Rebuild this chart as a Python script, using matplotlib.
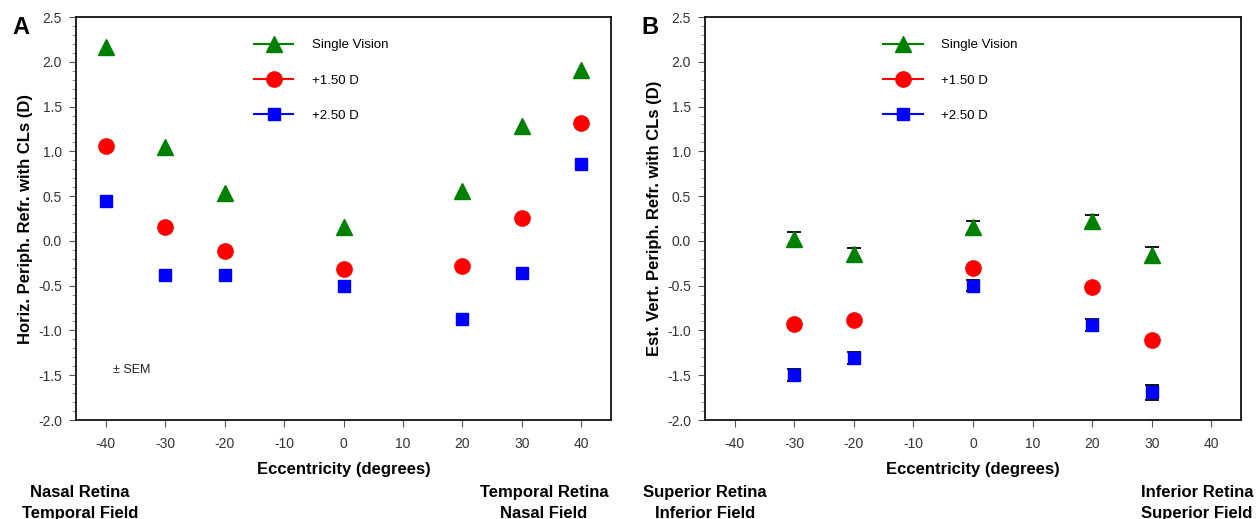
import matplotlib
matplotlib.use("Agg")
import matplotlib.pyplot as plt
from matplotlib.lines import Line2D
from matplotlib.ticker import MultipleLocator

plt.rcParams['font.family'] = ['Liberation Sans', 'DejaVu Sans']

# Panel A data (horizontal)
ecc_a = [-40, -30, -20, 0, 20, 30, 40]
sv_a = [2.17, 1.05, 0.53, 0.15, 0.56, 1.28, 1.91]
p150_a = [1.06, 0.15, -0.11, -0.31, -0.28, 0.26, 1.32]
p250_a = [0.44, -0.38, -0.38, -0.50, -0.87, -0.36, 0.86]

# Panel B data (vertical)
ecc_b = [-30, -20, 0, 20, 30]
sv_b = [0.02, -0.15, 0.155, 0.22, -0.16]
sv_b_sem = [0.08, 0.07, 0.07, 0.07, 0.09]
p150_b = [-0.93, -0.88, -0.30, -0.51, -1.11]
p250_b = [-1.50, -1.31, -0.50, -0.94, -1.69]
p250_b_sem = [0.07, 0.065, 0.06, 0.07, 0.085]

labels = ["Single Vision", "+1.50 D", "+2.50 D"]
xticks = [-40, -30, -20, -10, 0, 10, 20, 30, 40]

GREEN = "#008000"
RED = "#ff0000"
BLUE = "#0000ff"
TICKC = "#333333"

fig = plt.figure(figsize=(12.6, 5.19), dpi=100)
axA = fig.add_axes([76/1260, 1-420/519, (611-76)/1260, (420-17)/519])
axB = fig.add_axes([705/1260, 1-420/519, (1241-705)/1260, (420-17)/519])


def style(ax, ylabel):
    ax.set_xlim(-45, 45)
    ax.set_ylim(-2.0, 2.5)
    ax.set_xticks(xticks)
    ax.set_xticklabels([str(t) for t in xticks])
    ax.yaxis.set_major_locator(MultipleLocator(0.5))
    ax.yaxis.set_minor_locator(MultipleLocator(0.1))
    ax.set_yticklabels([f"{v:.1f}" for v in ax.get_yticks()])
    ax.tick_params(axis='both', which='major', direction='out', length=5,
                   width=0.8, labelsize=10, labelcolor=TICKC, color='#555555')
    ax.tick_params(axis='y', which='minor', direction='out', length=3,
                   width=0.6, color='#888888')
    ax.tick_params(axis='x', pad=7)
    ax.tick_params(axis='y', pad=5)
    for s in ax.spines.values():
        s.set_linewidth(1.3)
        s.set_color('#111111')
    ax.set_xlabel("Eccentricity (degrees)", fontsize=12, fontweight='bold',
                  labelpad=8)
    ax.set_ylabel(ylabel, fontsize=12, fontweight='bold', labelpad=4)


def legend(ax):
    handles = [
        Line2D([], [], color=GREEN, marker='^', markersize=11, lw=1.5),
        Line2D([], [], color=RED, marker='o', markersize=11, lw=1.5),
        Line2D([], [], color=BLUE, marker='s', markersize=8.5, lw=1.5),
    ]
    ax.legend(handles, labels, loc='upper left', bbox_to_anchor=(0.31, 0.975),
              frameon=False, fontsize=9.5, handlelength=3.0, handletextpad=1.4,
              labelspacing=1.75)


# Panel A
axA.plot(ecc_a, sv_a, linestyle='none', marker='^', color=GREEN, markersize=11)
axA.plot(ecc_a, p150_a, linestyle='none', marker='o', color=RED, markersize=11)
axA.plot(ecc_a, p250_a, linestyle='none', marker='s', color=BLUE, markersize=8.5)
style(axA, "Horiz. Periph. Refr. with CLs (D)")
legend(axA)
axA.text(-38.7, -1.44, "± SEM", fontsize=9, va='center', ha='left', color='#222222')

# Panel B
axB.errorbar(ecc_b, sv_b, yerr=sv_b_sem, fmt='none', ecolor='black',
             elinewidth=1.3, capsize=5, capthick=1.3, zorder=2)
axB.errorbar(ecc_b, p250_b, yerr=p250_b_sem, fmt='none', ecolor='black',
             elinewidth=1.3, capsize=5, capthick=1.3, zorder=2)
axB.plot(ecc_b, sv_b, linestyle='none', marker='^', color=GREEN, markersize=11, zorder=3)
axB.plot(ecc_b, p150_b, linestyle='none', marker='o', color=RED, markersize=11, zorder=3)
axB.plot(ecc_b, p250_b, linestyle='none', marker='s', color=BLUE, markersize=8.5, zorder=3)
style(axB, "Est. Vert. Periph. Refr. with CLs (D)")
legend(axB)

# Panel letters
fig.text(12/1260, 1-28/519, "A", fontsize=17, fontweight='bold', va='center', ha='left')
fig.text(641/1260, 1-28/519, "B", fontsize=17, fontweight='bold', va='center', ha='left')

# Region labels
kw = dict(fontsize=12, fontweight='bold', ha='center', va='center', linespacing=1.45)
fig.text(80/1260, 1-503/519, "Nasal Retina\nTemporal Field", **kw)
fig.text(544/1260, 1-503/519, "Temporal Retina\nNasal Field", **kw)
fig.text(705/1260, 1-503/519, "Superior Retina\nInferior Field", **kw)
fig.text(1197/1260, 1-503/519, "Inferior Retina\nSuperior Field", **kw)

fig.savefig("out.png", dpi=100)
